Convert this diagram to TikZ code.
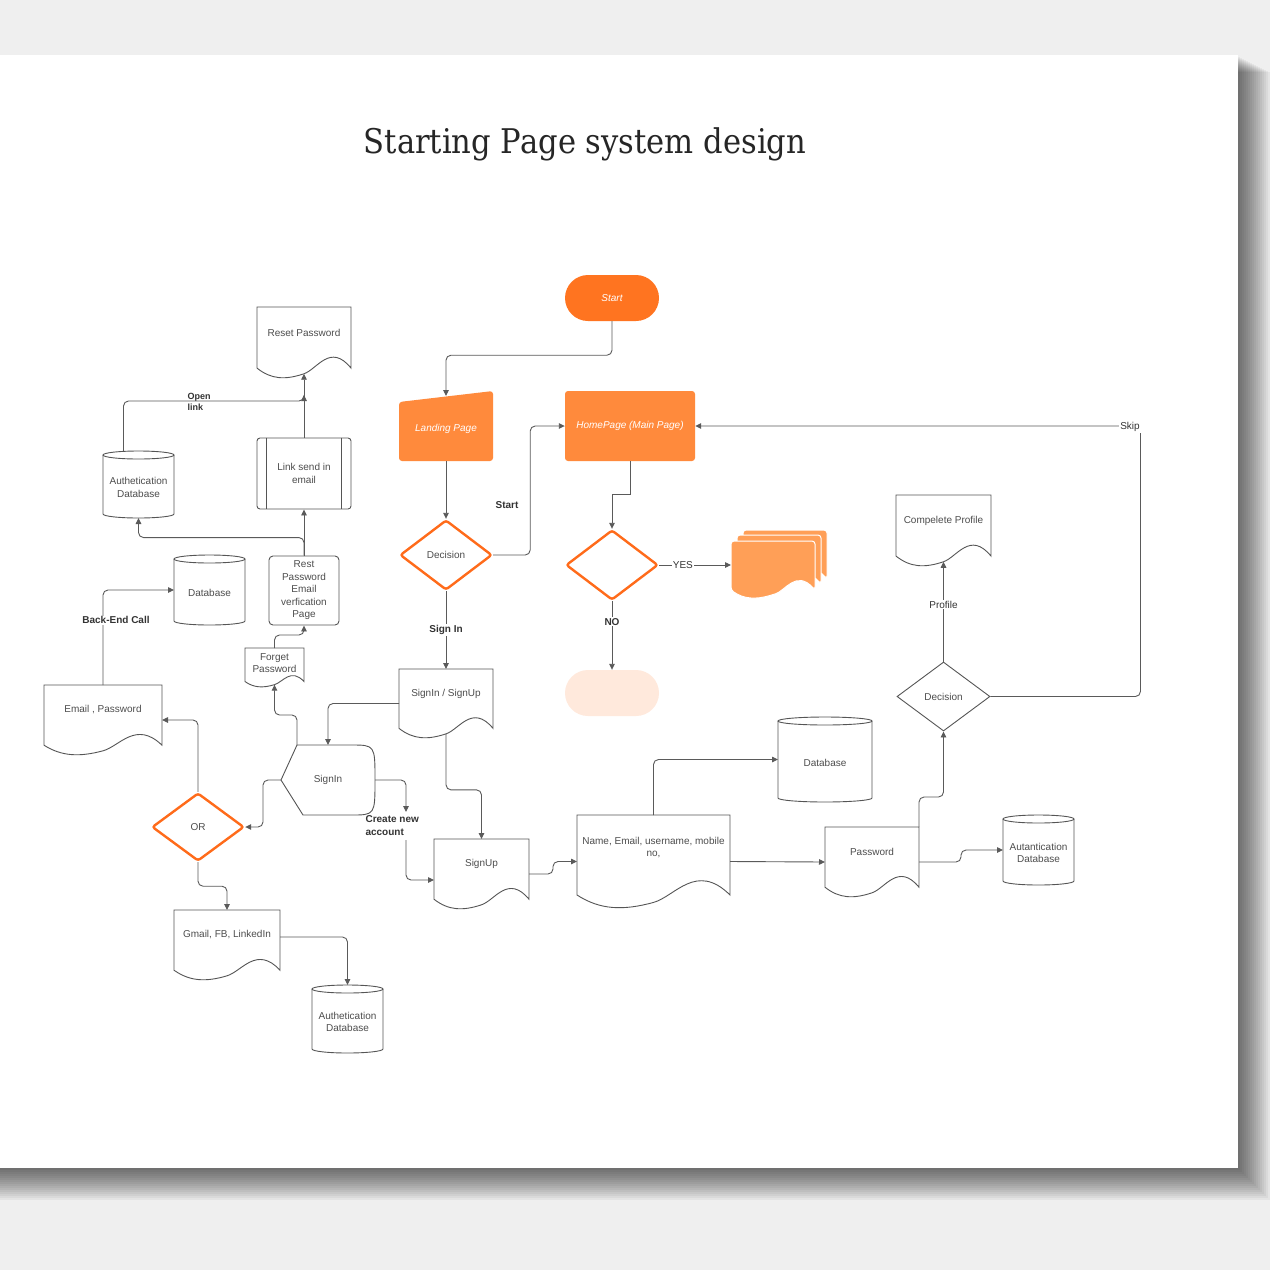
\documentclass[tikz,border=0pt]{standalone}
\usepackage{fontspec}
\setmainfont{Liberation Sans}
\newfontfamily\titlefont[FakeStretch=0.9]{DejaVu Serif}
\usetikzlibrary{shapes.geometric,arrows.meta,calc}

\definecolor{bgC}{HTML}{EFEFEF}
\definecolor{orangeA}{HTML}{FF7420}
\definecolor{orangeB}{HTML}{FF8A3C}
\definecolor{orangeC}{HTML}{FF9F57}
\definecolor{orangeD}{HTML}{FF6B1A}
\definecolor{pinkE}{HTML}{FFE9DC}
\definecolor{lineC}{HTML}{5A5A5A}
\definecolor{shpC}{HTML}{555555}
\definecolor{txtC}{HTML}{4D4D4D}
\definecolor{lblC}{HTML}{333333}

% document outline: style, left, top, width, height (pixel coordinates)
\newcommand\mkDocShape[5]{%
  \path[#1] (#2,#3) -- ({#2+#4},#3) -- ({#2+#4},{#3+0.86*#5})
   .. controls ({#2+0.78*#4},{#3+0.5*#5}) and ({#2+0.64*#4},{#3+0.877*#5}) .. ({#2+0.5*#4},{#3+0.94*#5})
   .. controls ({#2+0.3*#4},{#3+1.03*#5}) and ({#2+0.15*#4},{#3+1.02*#5}) .. (#2,{#3+0.86*#5}) -- cycle;}
% document node: name, left, top, width, height, text lift, text
\newcommand\mkDoc[7]{%
  \mkDocShape{shapeline, fill=white}{#2}{#3}{#4}{#5}
  \node[hold, minimum width=#4pt, minimum height=#5pt,
        label={[txt, yshift=#6pt]center:{#7}}] (#1) at ({#2+#4/2},{#3+#5/2}) {};
  \coordinate (#1-b) at ({#2+#4/2},{#3+0.94*#5});}
% cylinder node: name, left, top, width, height, text
\newcommand\mkCyl[6]{%
  \draw[shapeline, fill=white] (#2,{#3+4}) -- (#2,{#3+#5-4})
    .. controls (#2,{#3+#5-4+2.2}) and ({#2+#4/2-0.276*#4},{#3+#5}) .. ({#2+#4/2},{#3+#5})
    .. controls ({#2+#4/2+0.276*#4},{#3+#5}) and ({#2+#4},{#3+#5-4+2.2}) .. ({#2+#4},{#3+#5-4})
    -- ({#2+#4},{#3+4});
  \draw[shapeline] ({#2+#4/2},{#3+4}) ellipse[x radius={#4/2}, y radius=4];
  \node[hold, minimum width=#4pt, minimum height=#5pt,
        label={[txt, yshift=-3pt]center:{#6}}] (#1) at ({#2+#4/2},{#3+#5/2}) {};}

\tikzset{
  shapeline/.style={draw=shpC, line width=0.9pt},
  hold/.style={draw=none, inner sep=0pt, outer sep=0pt},
  txt/.style={font=\fontsize{10}{12.5}\selectfont, text=txtC, align=center},
  otxt/.style={font=\itshape\fontsize{10}{12}\selectfont, text=white, align=center},
  lbl/.style={font=\bfseries\fontsize{10}{12.5}\selectfont, text=lblC, align=center},
  lblw/.style={lbl, fill=white, inner sep=1pt, rounded corners=0pt},
  lbln/.style={font=\fontsize{10}{12.5}\selectfont, text=lblC, fill=white, inner sep=1pt, rounded corners=0pt},
  conn/.style={draw=lineC, line width=0.9pt, rounded corners=5pt, -{Triangle[length=6pt,width=5.5pt]}},
  odiamond/.style={diamond, draw=orangeD, line width=2.4pt, fill=white, rounded corners=2.5pt,
                   minimum width=92pt, minimum height=70pt, inner sep=0pt, txt},
}

\begin{document}
\begin{tikzpicture}[x=1pt,y=-1pt]
\useasboundingbox (0,0) rectangle (1270,1270);
% background, page and its shadow
\fill[bgC] (0,0) rectangle (1270,1270);
\foreach \k in {1,...,16}{\fill[black,opacity=0.045] (0,{56+\k}) rectangle ({1238+2*\k},{1168+2*\k});}
\fill[white] (0,55) rectangle (1238,1168);

% title
\node[font=\titlefont\fontsize{34}{40}\selectfont, text=black!85, anchor=base] (title) at (585,153) {Starting Page system design};

% orange flow
\node[fill=orangeA, rounded corners=23pt, minimum width=94pt, minimum height=46pt, inner sep=0pt, otxt] (start) at (612,298) {Start};
\fill[orangeB, rounded corners=3pt] (399,402) -- (493,391) -- (493,461) -- (399,461) -- cycle;
\node[hold, minimum width=94pt, minimum height=65pt, otxt] (landing) at (446,428.5) {Landing Page};
\node[fill=orangeB, rounded corners=3pt, minimum width=130pt, minimum height=70pt, inner sep=0pt, otxt] (home) at (630,426) {HomePage (Main Page)};
\node[odiamond] (dec1) at (446,555) {Decision};
\node[odiamond] (dec2) at (612,565) {};
\node[odiamond, minimum height=68pt] (or) at (198,827) {OR};
\node[diamond, draw=shpC, line width=0.9pt, minimum width=93pt, minimum height=69pt, inner sep=0pt, txt] (dec3) at (943.5,696.5) {Decision};

% multi document
\mkDocShape{fill=orangeC, draw=white, line width=1pt, rounded corners=3pt}{743}{530}{84}{57}
\mkDocShape{fill=orangeC, draw=white, line width=1pt, rounded corners=3pt}{737}{535}{84}{57}
\mkDocShape{fill=orangeC, draw=white, line width=1pt, rounded corners=3pt}{731}{541}{84}{57}
\node[hold, minimum width=96pt, minimum height=68pt] (multi) at (779,565) {};

\node[fill=pinkE, rounded corners=23pt, minimum width=94pt, minimum height=46pt] (endt) at (612,693) {};

% documents
\mkDoc{signinup}{399}{669}{94}{69}{9.5}{SignIn / SignUp}
\mkDoc{reset}{257}{307}{94}{71}{9.5}{Reset Password}
\mkDoc{forget}{245}{648}{59}{39}{4.5}{Forget\\Password}
\mkDoc{emailpw}{44}{685}{118}{70}{10}{Email , Password}
\mkDoc{gmail}{174}{910}{106}{70}{10}{Gmail, FB, LinkedIn}
\mkDoc{signup}{434}{839}{95}{70}{10}{SignUp}
\mkDoc{namedoc}{577}{815}{153}{93}{14}{Name, Email, username, mobile\\no,}
\mkDoc{password}{825}{827}{94}{70}{10}{Password}
\mkDoc{profile}{896}{495}{95}{71}{9.5}{Compelete Profile}

% cylinders
\mkCyl{authdb1}{103}{451}{71}{67}{Authetication\\Database}
\mkCyl{db1}{174}{555}{71}{70}{Database}
\mkCyl{authdb2}{312}{985}{71}{68}{Authetication\\Database}
\mkCyl{db2}{778}{717}{94}{85}{Database}
\mkCyl{autdb}{1003}{815}{71}{70}{Autantication\\Database}

% predefined process and pages
\node[shapeline, rounded corners=3pt, minimum width=94pt, minimum height=71pt, inner sep=0pt, txt] (link) at (304,473.5) {Link send in\\email};
\draw[shapeline] ([xshift=10pt]link.north west) -- ([xshift=10pt]link.south west)
                 ([xshift=-10pt]link.north east) -- ([xshift=-10pt]link.south east);
\node[shapeline, rounded corners=4pt, minimum width=70pt, minimum height=69pt, inner sep=0pt, txt] (restpw) at (304,590.5) {Rest\\Password\\Email\\verfication\\Page};

% SignIn display shape
\draw[shapeline, fill=white] (281,780) -- (297,745) -- (351,745) .. controls (375,745) .. (375,780)
   .. controls (375,815) .. (351,815) -- (303,815) -- cycle;
\node[hold, minimum width=94pt, minimum height=70pt, txt] (signin) at (328,780) {SignIn};
\coordinate (signin-tl) at (297,745);

% helper coordinates
\coordinate (openlink) at (304,395);
\coordinate (cnaT) at (406,812);
\coordinate (cnaB) at (406,840);

% connectors
\draw[conn] (start.south) -- ++(0,34) -| (landing.north);
\draw[conn] (landing.south) -- (dec1.north);
\draw[conn] (dec1.east) -- ++(37,0) |- (home.west);
\node[lbl] at (507,505) {Start};
\draw[conn] (dec1.south) -- node[lblw]{Sign In} (signinup.north);
\draw[conn, sharp corners] (home.south) -- ++(0,33) -| (dec2.north);
\draw[conn] (dec2.east) -- node[pos=0.33, lbln]{YES} (multi.west);
\draw[conn] (dec2.south) -- node[pos=0.3, lblw]{NO} (endt.north);
\draw[conn] (dec3.east) -- ++(150,0) |- (home.east);
\node[lbln] at (1130,427) {Skip};
\draw[conn] (dec3.north) -- node[pos=0.57, lbln]{Profile} (profile-b);
\draw[conn] (password.north east) -- ++(0,-30) -| (dec3.south);
\draw[conn] (password.east) -- ++(42,0) |- (autdb.west);
\draw[conn] (namedoc.east) -- (password.west);
\draw[conn] (namedoc.north) |- (db2.west);
\draw[conn] (signup.east) -- ++(24,0) |- (namedoc.west);
\draw[conn] (signinup-b) -- ++(0,56) -| (signup.north);
\draw[conn] (signinup.west) -| (signin.north);
\draw[conn] (signin.east) -| (cnaT);
\node[lbl, align=left, anchor=west] (cna) at (362,825.5) {Create new\\account};
\draw[conn] (cnaB) |- ([yshift=-6pt]signup.west);
\draw[conn] (signin.west) -- ++(-18,0) |- (or.east);
\draw[conn] (or.north) |- (emailpw.east);
\draw[conn] (emailpw.north) |- node[pos=0.34, lblw, xshift=13pt]{Back-End Call} (db1.west);
\draw[conn] (or.south) -- ++(0,24) -| (gmail.north);
\draw[conn] ([yshift=8pt]gmail.east) -| (authdb2.north);
\draw[conn] (signin-tl) -- ++(0,-30) -| (forget-b);
\draw[conn] (forget.north) -- ++(0,-13) -| (restpw.south);
\draw[conn] (restpw.north) -- (link.south);
\draw[conn] (restpw.north) -- ++(0,-18) -| (authdb1.south);
\draw[conn] (link.north) -- (reset-b);
\draw[conn] ([xshift=-15pt]authdb1.north) |- ([yshift=-6pt]openlink) -- (openlink);
\node[font=\bfseries\fontsize{9}{11}\selectfont, text=lblC, align=left, anchor=west] (openlbl) at (184,401.5) {Open\\link};
\end{tikzpicture}
\end{document}
